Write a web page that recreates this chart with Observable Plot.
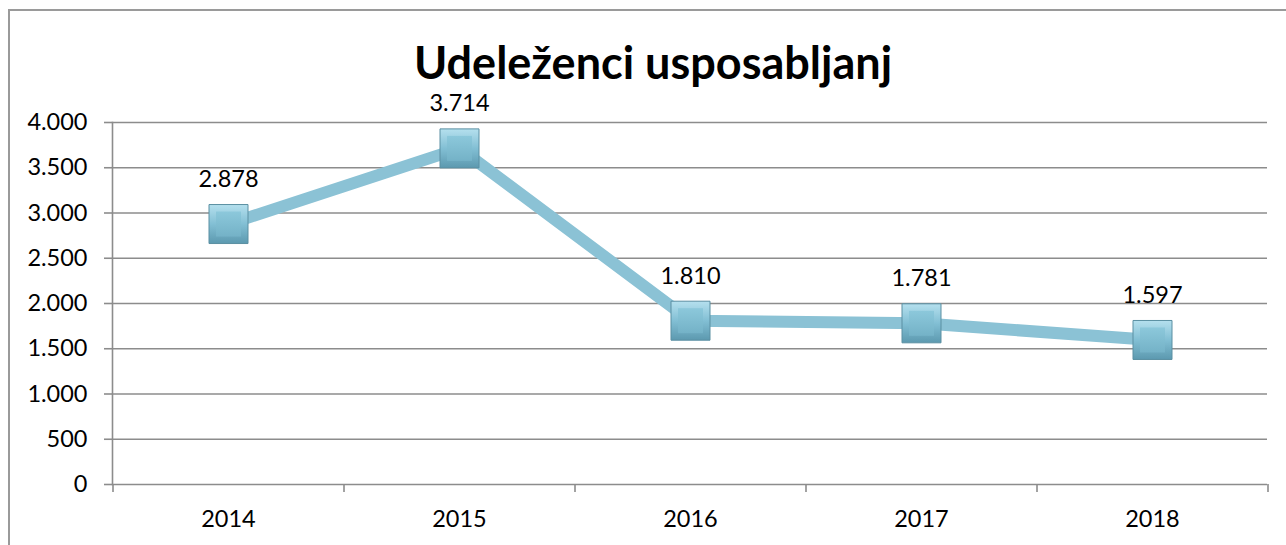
<!DOCTYPE html>
<html>
<head>
<meta charset="utf-8">
<script src="https://cdn.jsdelivr.net/npm/d3@7"></script>
<script src="https://cdn.jsdelivr.net/npm/@observablehq/plot@0.6"></script>
<style>
  html, body { margin: 0; padding: 0; background: #fff; }
  #wrap { position: relative; width: 1286px; height: 545px; overflow: hidden; }
  #border { position: absolute; left: 8px; top: 9px; width: 1400px; height: 700px;
            border-left: 2px solid #9a9a9a; border-top: 2px solid #9a9a9a; pointer-events: none; }
  #chart { position: absolute; left: 0; top: 0; }
</style>
</head>
<body>
<div id="wrap"><div id="chart"></div><div id="border"></div></div>
<script>
const title = "Udeleženci usposabljanj";
const years = ["2014", "2015", "2016", "2017", "2018"];
const values = [2878, 3714, 1810, 1781, 1597];
const yTicks = [0, 500, 1000, 1500, 2000, 2500, 3000, 3500, 4000];

const data = years.map((year, i) => ({year, value: values[i]}));
const loc = d3.formatLocale({decimal: ",", thousands: ".", grouping: [3], currency: ["", " €"]});
const fmt = loc.format(",d");

const W = 1286, H = 545, ML = 112, MR = 19, MT = 122, MB = 61;
const step = (W - ML - MR) / years.length;
const plotH = H - MT - MB;
const grid = "#8c8c8c";
const fs = 23.5;

const plot = Plot.plot({
  width: W, height: H,
  marginLeft: ML, marginRight: MR, marginTop: MT, marginBottom: MB,
  style: {fontFamily: "Lato, 'Open Sans', sans-serif", fontSize: fs + "px", color: "#000", background: "transparent"},
  x: {type: "point", domain: years, padding: 0.5},
  y: {domain: [0, 4000]},
  marks: [
    Plot.gridY(yTicks, {stroke: grid, strokeOpacity: 1, strokeWidth: 1.6}),
    Plot.axisY(yTicks, {tickSize: 8, tickPadding: 17, tickFormat: fmt, stroke: grid, strokeWidth: 1.6, fontSize: fs, label: null}),
    Plot.frame({anchor: "left", stroke: grid, strokeWidth: 1.6}),
    Plot.ruleX(years, {x: d => d, dx: -step / 2, insetTop: plotH, insetBottom: -8, stroke: grid, strokeWidth: 1.6}),
    Plot.ruleX(years.slice(-1), {x: d => d, dx: step / 2, insetTop: plotH, insetBottom: -8, stroke: grid, strokeWidth: 1.6}),
    Plot.axisX({tickSize: 0, tickPadding: 26, fontSize: fs, label: null}),
    Plot.line(data, {x: "year", y: "value", stroke: "#8bc2d5", strokeWidth: 12}),
    Plot.dot(data, {x: "year", y: "value", symbol: "square", r: 39 / Math.sqrt(Math.PI), fill: "url(#mkOuter)", stroke: "#5a8fa2", strokeWidth: 1, ariaLabel: "marker-outer"}),
    Plot.dot(data, {x: "year", y: "value", symbol: "square", r: 25 / Math.sqrt(Math.PI), fill: "url(#mkInner)", stroke: "none", ariaLabel: "marker-inner"}),
    Plot.text(data, {x: "year", y: "value", text: d => fmt(d.value), dy: -37, lineAnchor: "bottom", fontSize: fs, fill: "#000"}),
    Plot.text([title], {frameAnchor: "top", dy: -44, dx: -37, lineAnchor: "bottom", fontSize: 45, fontWeight: "bold", fill: "#000"})
  ]
});

const ns = "http://www.w3.org/2000/svg";
const defs = document.createElementNS(ns, "defs");
defs.innerHTML = `
  <linearGradient id="mkOuter" x1="0" y1="0" x2="0" y2="1">
    <stop offset="0" stop-color="#b5e0ee"/>
    <stop offset="0.5" stop-color="#82bfd4"/>
    <stop offset="1" stop-color="#5c99af"/>
  </linearGradient>
  <linearGradient id="mkInner" x1="0" y1="0" x2="0" y2="1">
    <stop offset="0" stop-color="#8cc8db"/>
    <stop offset="1" stop-color="#74b2c7"/>
  </linearGradient>
  <filter id="shadow" x="-30%" y="-30%" width="160%" height="160%">
    <feDropShadow dx="2" dy="3" stdDeviation="2" flood-color="#000" flood-opacity="0.35"/>
  </filter>`;
plot.insertBefore(defs, plot.firstChild);
const outer = plot.querySelector('[aria-label="marker-outer"]');
if (outer) outer.setAttribute("filter", "url(#shadow)");
document.getElementById("chart").appendChild(plot);
</script>
</body>
</html>
